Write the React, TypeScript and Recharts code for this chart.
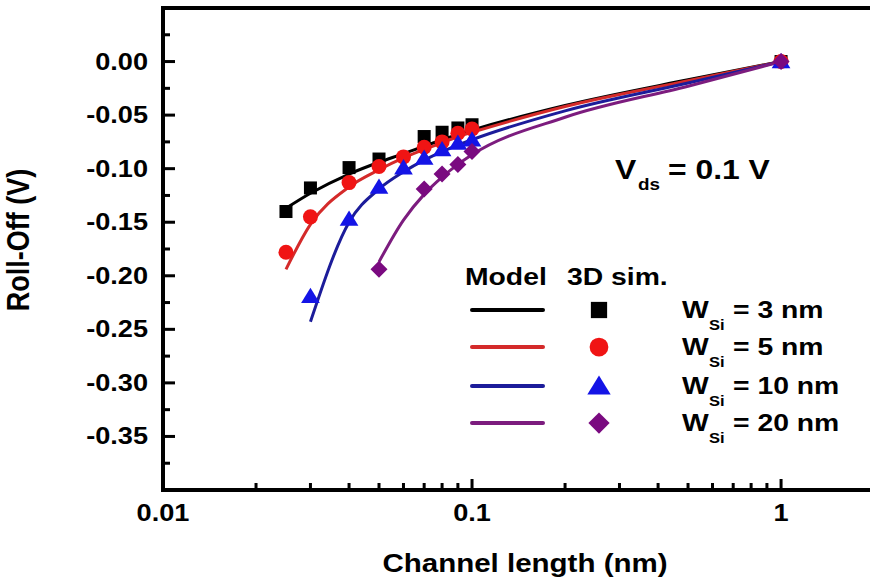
import React from "react"
import { ComposedChart, Line, Scatter, XAxis, YAxis } from "recharts"

const FONT = '"Liberation Sans", Arial, sans-serif'
// the original figure is a little wider than tall, so text is stretched sideways
const STRETCH = 1.18

// model curves (lines)
const model3X = [0.025, 0.03, 0.04, 0.05, 0.06, 0.07, 0.08, 0.09, 0.1, 0.2, 0.5, 1]
const model3Y = [-0.137, -0.123, -0.105, -0.094, -0.086, -0.079, -0.073, -0.068, -0.064, -0.041, -0.017, 0]
const model5X = [0.025, 0.03, 0.04, 0.05, 0.06, 0.07, 0.08, 0.09, 0.1, 0.2, 0.5, 1]
const model5Y = [-0.194, -0.152, -0.117, -0.101, -0.090, -0.082, -0.076, -0.070, -0.066, -0.042, -0.018, 0]
const model10X = [0.03, 0.04, 0.05, 0.06, 0.07, 0.08, 0.09, 0.1, 0.2, 0.5, 1]
const model10Y = [-0.243, -0.150, -0.119, -0.103, -0.092, -0.084, -0.078, -0.073, -0.046, -0.020, 0]
const model20X = [0.05, 0.06, 0.07, 0.08, 0.09, 0.1, 0.2, 0.5, 1]
const model20Y = [-0.187, -0.148, -0.124, -0.108, -0.096, -0.087, -0.052, -0.023, 0]

// 3D simulation points (symbols)
const sim3X = [0.025, 0.03, 0.04, 0.05, 0.07, 0.08, 0.09, 0.1, 1]
const sim3Y = [-0.140, -0.118, -0.099, -0.091, -0.070, -0.066, -0.062, -0.059, 0]
const sim5X = [0.025, 0.03, 0.04, 0.05, 0.06, 0.07, 0.08, 0.09, 0.1, 1]
const sim5Y = [-0.178, -0.145, -0.113, -0.098, -0.089, -0.080, -0.075, -0.067, -0.063, 0]
const sim10X = [0.03, 0.04, 0.05, 0.06, 0.07, 0.08, 0.09, 0.1, 1]
const sim10Y = [-0.219, -0.147, -0.117, -0.099, -0.090, -0.082, -0.076, -0.073, 0]
const sim20X = [0.05, 0.07, 0.08, 0.09, 0.1, 1]
const sim20Y = [-0.194, -0.119, -0.105, -0.096, -0.084, 0]

const xMajorTicks = [0.01, 0.1, 1]
const xTickLabels = ["0.01", "0.1", "1"]
const xMinorTicks = [0.02, 0.03, 0.04, 0.05, 0.06, 0.07, 0.08, 0.09, 0.2, 0.3, 0.4, 0.5, 0.6, 0.7, 0.8, 0.9]
const yMajorTicks = [0, -0.05, -0.1, -0.15, -0.2, -0.25, -0.3, -0.35]
const yTickLabels = ["0.00", "-0.05", "-0.10", "-0.15", "-0.20", "-0.25", "-0.30", "-0.35"]
const yMinorTicks = [0.025, -0.025, -0.075, -0.125, -0.175, -0.225, -0.275, -0.325, -0.375]

const legendWidths = ["3", "5", "10", "20"]
const lineColors = ["#000000", "#d42a2a", "#1c1c9a", "#7c1c7e"]
const markColors = ["#000000", "#f01414", "#1414e6", "#7a0a80"]

// plot box: chart margins + axis sizes
const W = 870
const H = 580
const LEFT = 163
const TOP = 8
const BOTTOM = 490
const AXIS_W = 4

const toPoints = (xs: number[], ys: number[]) => xs.map((x, i) => ({ x, y: ys[i] }))

function SText({ x, y, size, anchor = "start", rotate = false, children }: any) {
  const t = `translate(${x},${y}) scale(${STRETCH},1)${rotate ? " rotate(-90)" : ""}`
  return (
    <text transform={t} fontFamily={FONT} fontWeight="bold" fontSize={size} textAnchor={anchor} fill="#000" stroke="none">
      {children}
    </text>
  )
}

function Marker({ kind, cx, cy, color, s = 1 }: any) {
  if (kind === 0) return <rect x={cx - 6.5 * s} y={cy - 6.5 * s} width={13 * s} height={13 * s} fill={color} />
  if (kind === 1) return <circle cx={cx} cy={cy} r={7.5 * s} fill={color} />
  if (kind === 2) {
    const h = 8.5 * s
    return <polygon points={`${cx},${cy - h} ${cx + h * 1.1},${cy + h * 0.8} ${cx - h * 1.1},${cy + h * 0.8}`} fill={color} />
  }
  const d = 8.5 * s
  return <polygon points={`${cx},${cy - d} ${cx + d},${cy} ${cx},${cy + d} ${cx - d},${cy}`} fill={color} />
}

// inward tick marks as small filled bars
function XTick({ x, y, payload }: any) {
  const i = xMajorTicks.indexOf(payload.value)
  const len = i >= 0 ? 11 : 7
  return (
    <g>
      <rect x={x - 1.5} y={y - len} width={3} height={len} fill="#000" />
      {i >= 0 && <SText x={x} y={y + 31} size={23} anchor="middle">{xTickLabels[i]}</SText>}
    </g>
  )
}

function YTick({ x, y, payload }: any) {
  const i = yMajorTicks.indexOf(payload.value)
  const len = i >= 0 ? 12 : 7
  return (
    <g>
      <rect x={x} y={y - 1.5} width={len} height={3} fill="#000" />
      {i >= 0 && <SText x={x - 15} y={y + 8} size={23} anchor="end">{yTickLabels[i]}</SText>}
    </g>
  )
}

export default function App() {
  const models = [
    toPoints(model3X, model3Y),
    toPoints(model5X, model5Y),
    toPoints(model10X, model10Y),
    toPoints(model20X, model20Y),
  ]
  const sims = [
    toPoints(sim3X, sim3Y),
    toPoints(sim5X, sim5Y),
    toPoints(sim10X, sim10Y),
    toPoints(sim20X, sim20Y),
  ]
  const rowY = [310, 347, 386, 423]

  return (
    <div style={{ position: "absolute", left: 0, top: 0, width: W, height: H, background: "#fff" }}>
      <ComposedChart width={W} height={H} margin={{ top: TOP, right: 0, bottom: 0, left: 0 }}>
        <XAxis
          dataKey="x"
          type="number"
          scale="log"
          domain={[0.01, 1.94]}
          allowDataOverflow
          ticks={[...xMajorTicks, ...xMinorTicks]}
          interval={0}
          height={H - BOTTOM}
          tickSize={0}
          tickMargin={0}
          tickLine={false}
          axisLine={false}
          tick={<XTick />}
        />
        <YAxis
          dataKey="y"
          type="number"
          domain={[-0.4, 0.05]}
          allowDataOverflow
          ticks={[...yMajorTicks, ...yMinorTicks]}
          interval={0}
          width={LEFT}
          tickSize={0}
          tickMargin={0}
          tickLine={false}
          axisLine={false}
          tick={<YTick />}
        />
        {models.map((d, i) => (
          <Line
            key={"m" + i}
            data={d}
            dataKey="y"
            type="monotone"
            stroke={lineColors[i]}
            strokeWidth={3}
            dot={false}
            activeDot={false}
            isAnimationActive={false}
          />
        ))}
        {sims.map((d, i) => (
          <Scatter
            key={"s" + i}
            data={d}
            dataKey="y"
            fill={markColors[i]}
            shape={(p: any) => <Marker kind={i} cx={p.cx} cy={p.cy} color={markColors[i]} />}
            isAnimationActive={false}
          />
        ))}
      </ComposedChart>
      <svg width={W} height={H} style={{ position: "absolute", left: 0, top: 0, pointerEvents: "none" }}>
        {/* frame: left, bottom and top (right side runs off the page) */}
        <rect x={LEFT - AXIS_W / 2} y={TOP - AXIS_W / 2} width={W - LEFT + AXIS_W} height={AXIS_W} fill="#000" />
        <rect x={LEFT - AXIS_W / 2} y={TOP - AXIS_W / 2} width={AXIS_W} height={BOTTOM - TOP + AXIS_W} fill="#000" />
        <rect x={LEFT - AXIS_W / 2} y={BOTTOM - AXIS_W / 2} width={W - LEFT + AXIS_W} height={AXIS_W} fill="#000" />

        <SText x={29} y={240} size={27} anchor="middle" rotate>Roll-Off (V)</SText>
        <SText x={525} y={572} size={25} anchor="middle">Channel length (nm)</SText>

        <SText x={615} y={179} size={27}>V</SText>
        <SText x={638} y={190} size={16}>ds</SText>
        <SText x={668} y={179} size={27}>= 0.1 V</SText>

        <SText x={465} y={285} size={24}>Model</SText>
        <SText x={567} y={285} size={24}>3D sim.</SText>
        {legendWidths.map((w, i) => (
          <g key={w}>
            <line x1={472} x2={543} y1={rowY[i]} y2={rowY[i]} stroke={lineColors[i]} strokeWidth={4} strokeLinecap="round" />
            <Marker kind={i} cx={599} cy={rowY[i]} color={markColors[i]} s={1.25} />
            <SText x={682} y={rowY[i] + 8} size={24}>W</SText>
            <SText x={709} y={rowY[i] + 20} size={14}>Si</SText>
            <SText x={733} y={rowY[i] + 8} size={24}>= {w} nm</SText>
          </g>
        ))}
      </svg>
    </div>
  )
}
